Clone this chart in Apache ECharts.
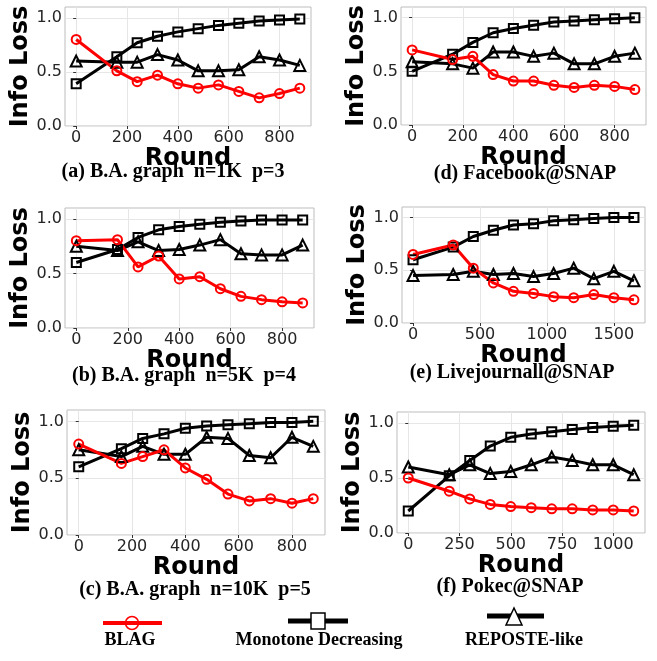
<!DOCTYPE html>
<html><head><meta charset="utf-8">
<script src="https://cdn.jsdelivr.net/npm/echarts@6/dist/echarts.min.js"></script>
<style>html,body{margin:0;padding:0;background:#fff}#c{width:657px;height:661px}</style>
</head><body><div id="c"></div>
<script>
// ---- data ----
const roundsBA = [0,160,240,320,400,480,560,640,720,800,880];
const roundsLJ = [0,300,450,600,750,900,1050,1200,1350,1500,1650];
const roundsPK = [0,200,300,400,500,600,700,800,900,1000,1100];

const ticksBA = [0,200,400,600,800];
const ticksLJ = [0,500,1000,1500];
const ticksPK = [0,250,500,750,1000];
const yTicks = [0, 0.5, 1.0];

const seriesNames = ['BLAG', 'Monotone Decreasing', 'REPOSTE-like'];

// (a) B.A. graph n=1K p=3
const blagA = [0.80,0.51,0.41,0.47,0.39,0.35,0.38,0.32,0.26,0.30,0.35];
const monoA = [0.39,0.64,0.77,0.83,0.87,0.90,0.93,0.95,0.97,0.98,0.99];
const repoA = [0.60,0.59,0.59,0.66,0.61,0.51,0.51,0.52,0.64,0.61,0.56];
// (b) B.A. graph n=5K p=4
const blagB = [0.80,0.81,0.56,0.66,0.45,0.47,0.36,0.29,0.26,0.24,0.23];
const monoB = [0.60,0.72,0.83,0.90,0.93,0.95,0.97,0.98,0.99,0.99,0.99];
const repoB = [0.75,0.71,0.79,0.71,0.72,0.76,0.81,0.68,0.67,0.67,0.76];
// (c) B.A. graph n=10K p=5
const blagC = [0.80,0.63,0.69,0.75,0.59,0.49,0.36,0.30,0.32,0.28,0.32];
const monoC = [0.60,0.76,0.85,0.89,0.94,0.96,0.97,0.98,0.99,0.99,1.00];
const repoC = [0.75,0.69,0.78,0.71,0.71,0.86,0.85,0.70,0.68,0.86,0.78];
// (d) Facebook@SNAP
const blagD = [0.70,0.61,0.64,0.47,0.41,0.41,0.37,0.35,0.37,0.36,0.33];
const monoD = [0.50,0.66,0.77,0.86,0.90,0.93,0.96,0.97,0.98,0.99,1.00];
const repoD = [0.59,0.57,0.53,0.68,0.68,0.64,0.67,0.57,0.57,0.64,0.67];
// (e) Livejournall@SNAP
const blagE = [0.65,0.74,0.52,0.38,0.30,0.28,0.25,0.24,0.27,0.24,0.22];
const monoE = [0.60,0.72,0.82,0.88,0.93,0.94,0.97,0.98,0.99,1.00,1.00];
const repoE = [0.45,0.46,0.49,0.46,0.47,0.44,0.47,0.52,0.42,0.49,0.40];
// (f) Pokec@SNAP
const blagF = [0.50,0.38,0.31,0.26,0.24,0.23,0.22,0.22,0.21,0.21,0.20];
const monoF = [0.20,0.52,0.66,0.79,0.87,0.90,0.92,0.94,0.96,0.97,0.98];
const repoF = [0.60,0.53,0.62,0.54,0.56,0.62,0.69,0.66,0.62,0.62,0.53];

const captions = ['(a) B.A. graph  n=1K  p=3','(b) B.A. graph  n=5K  p=4','(c) B.A. graph  n=10K  p=5',
                  '(d) Facebook@SNAP','(e) Livejournall@SNAP','(f) Pokec@SNAP'];

// ---- layout ----
const panels = [
  {x: roundsBA, ticks: ticksBA, blag: blagA, mono: monoA, repo: repoA, grid: {left:65, top:7, width:246, height:119}, cap:[173,172]},
  {x: roundsBA, ticks: ticksBA, blag: blagB, mono: monoB, repo: repoB, grid: {left:65, top:208, width:249, height:120}, cap:[184,376]},
  {x: roundsBA, ticks: ticksBA, blag: blagC, mono: monoC, repo: repoC, grid: {left:67, top:410, width:258, height:125}, cap:[195,590]},
  {x: roundsBA, ticks: ticksBA, blag: blagD, mono: monoD, repo: repoD, grid: {left:401, top:7, width:245, height:118}, cap:[525,174]},
  {x: roundsLJ, ticks: ticksLJ, blag: blagE, mono: monoE, repo: repoE, grid: {left:402, top:207, width:243, height:116}, cap:[512,373]},
  {x: roundsPK, ticks: ticksPK, blag: blagF, mono: monoF, repo: repoF, grid: {left:397, top:412, width:248, height:121}, cap:[510,587]},
];

const tickFont = {fontFamily:'DejaVu Sans', fontSize:16, color:'#262626'};
const nameFont = {fontFamily:'DejaVu Sans', fontSize:24, fontWeight:'bold', color:'#000'};
const RED = '#ff0000', BLACK = '#000000';

const grids = [], xAxes = [], yAxes = [], series = [], graphics = [];
panels.forEach((p, i) => {
  grids.push(Object.assign({show:true, borderColor:'#bdbdbd', borderWidth:1, containLabel:false}, p.grid));
  const lo = Math.min(...p.x), hi = Math.max(...p.x), pad = (hi - lo) * 0.05;
  xAxes.push({
    type:'value', gridIndex:i, min: lo - pad, max: hi + pad,
    name:'Round', nameLocation:'middle', nameGap:15, nameTextStyle: nameFont,
    axisLine:{show:false},
    axisTick:{show:true, length:3, lineStyle:{color:'#333'}, customValues: p.ticks},
    axisLabel:Object.assign({margin:4, customValues: p.ticks, formatter: v => String(v)}, tickFont),
    splitLine:{show:true, lineStyle:{color:'#e6e6e6', width:1}}
  });
  yAxes.push({
    type:'value', gridIndex:i, min:0, max:1.1, interval:0.5,
    name:'Info Loss', nameLocation:'middle', nameGap:29, nameTextStyle: nameFont,
    axisLine:{show:false},
    axisTick:{show:true, length:3, lineStyle:{color:'#333'}, customValues: yTicks},
    axisLabel:Object.assign({margin:3, customValues: yTicks,
      formatter: v => (Math.abs(v*2 - Math.round(v*2)) < 1e-6 ? Number(v).toFixed(1) : '')}, tickFont),
    splitLine:{show:true, lineStyle:{color:'#e6e6e6', width:1}}
  });
  const mk = (name, vals, color, symbol, size) => ({
    name, type:'line', xAxisIndex:i, yAxisIndex:i,
    data: p.x.map((xv, k) => [xv, vals[k]]),
    symbol, symbolSize:size, showAllSymbol:true,
    lineStyle:{color, width:3},
    itemStyle:{color:'rgba(255,255,255,0)', borderColor:color, borderWidth:2},
    emphasis:{disabled:true}, silent:true
  });
  series.push(mk(seriesNames[1], p.mono, BLACK, 'rect', 9));
  series.push(mk(seriesNames[2], p.repo, BLACK, 'triangle', 11));
  series.push(mk(seriesNames[0], p.blag, RED, 'circle', 9));
  graphics.push({type:'text', x:p.cap[0], y:p.cap[1],
    style:{text:captions[i], fontFamily:'Liberation Serif', fontWeight:'bold', fontSize:20, fill:'#000',
           align:'center', verticalAlign:'middle'}});
});

// ---- legend (drawn as graphics: marker over line, label below) ----
const legendItems = [
  {name:seriesNames[0], color:RED, x1:103, x2:162, y:623, cx:132, tx:130, marker:'circle', lw:4},
  {name:seriesNames[1], color:BLACK, x1:288, x2:348, y:621, cx:318, tx:319, marker:'rect', lw:5},
  {name:seriesNames[2], color:BLACK, x1:487, x2:544, y:616, cx:514, tx:524, marker:'triangle', lw:5},
];
legendItems.forEach(it => {
  graphics.push({type:'line', shape:{x1:it.x1, y1:it.y, x2:it.x2, y2:it.y}, style:{stroke:it.color, lineWidth:it.lw}});
  if (it.marker === 'circle') {
    graphics.push({type:'circle', shape:{cx:it.cx, cy:it.y, r:6.5}, style:{fill:'none', stroke:it.color, lineWidth:1.5}});
  } else if (it.marker === 'rect') {
    graphics.push({type:'rect', shape:{x:it.cx-7, y:it.y-8, width:14, height:16}, style:{fill:'#fff', stroke:it.color, lineWidth:1.5}});
  } else {
    graphics.push({type:'polygon', shape:{points:[[it.cx, it.y-8],[it.cx-8, it.y+9],[it.cx+8, it.y+9]]}, style:{fill:'#fff', stroke:it.color, lineWidth:1.5}});
  }
  graphics.push({type:'text', x:it.tx, y:640, style:{text:it.name, fontFamily:'Liberation Serif', fontWeight:'bold',
    fontSize:18, fill:'#000', align:'center', verticalAlign:'middle'}});
});

const chart = echarts.init(document.getElementById('c'), null, {renderer:'canvas'});
chart.setOption({
  animation:false, backgroundColor:'#fff',
  grid:grids, xAxis:xAxes, yAxis:yAxes, series, graphic:graphics
});
</script></body></html>
